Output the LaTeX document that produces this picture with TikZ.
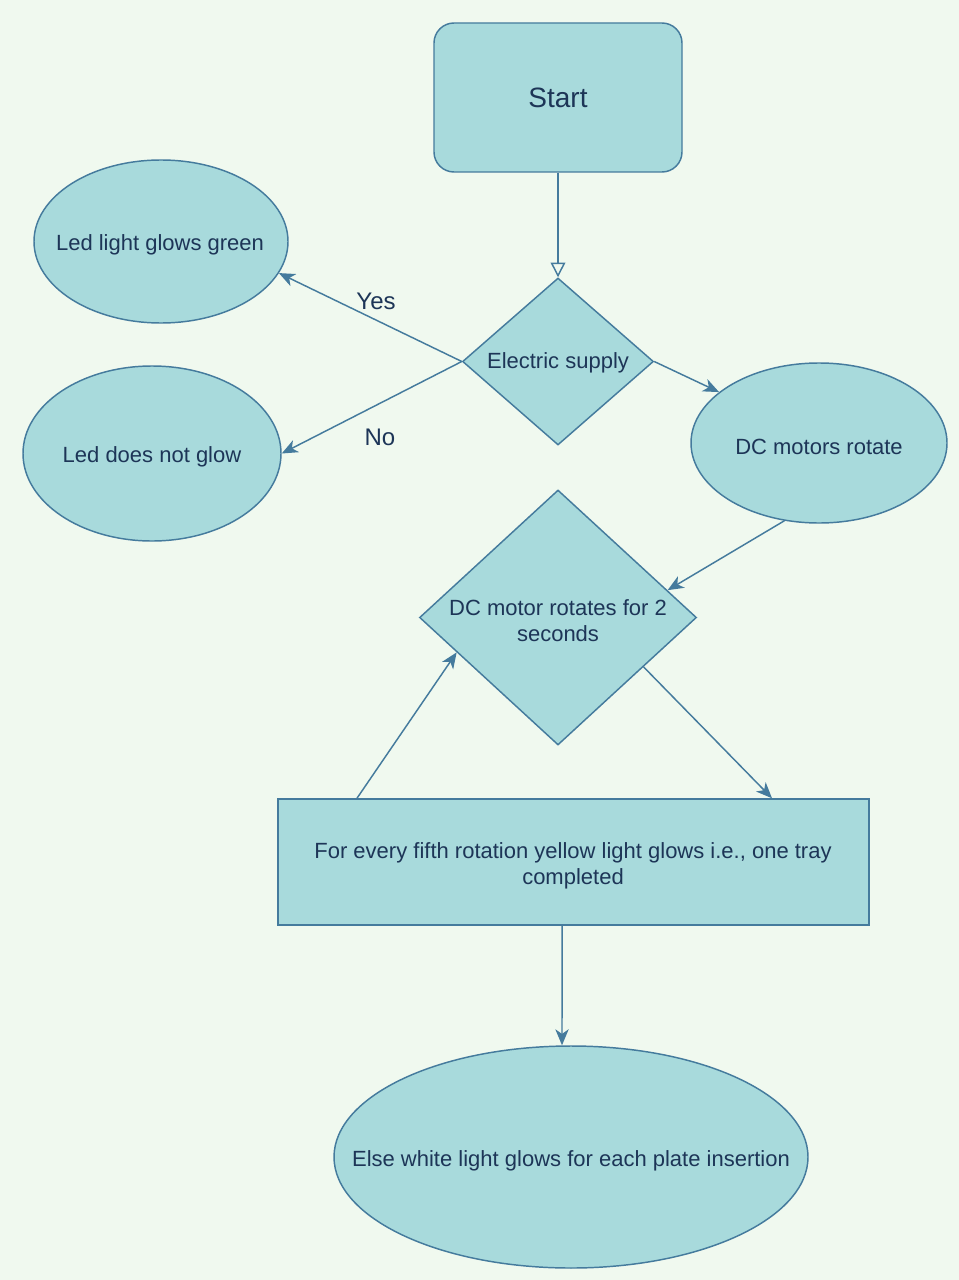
\documentclass[tikz,border=0pt]{standalone}
\usepackage{fontspec}
\setmainfont{Liberation Sans}
\usetikzlibrary{shapes.geometric,arrows.meta}
\definecolor{bgc}{HTML}{F0F9EF}
\definecolor{fillc}{HTML}{A8DADC}
\definecolor{linec}{HTML}{457B9D}
\definecolor{textc}{HTML}{1D3557}
\tikzset{
  base/.style={draw=linec, fill=fillc, line width=1.1pt, inner sep=0pt, text=textc,
    font=\fontsize{16.5}{19.5}\selectfont, align=center},
  ell/.style={base, ellipse},
  dia/.style={base, diamond},
  boxnode/.style={base, rectangle},
  txt/.style={text=textc, inner sep=0pt, font=\fontsize{16.5}{19.5}\selectfont, align=center},
  lbl/.style={text=textc, inner sep=0pt, font=\fontsize{18}{20}\selectfont},
  conn/.style={draw=linec, line width=1.1pt, -{Stealth[length=12pt,width=10pt,inset=3.5pt]}},
  openconn/.style={draw=linec, line width=1.1pt, -{Triangle[open,length=11pt,width=11pt]}}
}
\begin{document}
\begin{tikzpicture}[x=0.75pt,y=-0.75pt]
\fill[bgc] (0,0) rectangle (959,1280);
\useasboundingbox (0,0) rectangle (959,1280);

\node[boxnode, rounded corners=15pt, minimum width=186pt, minimum height=111.75pt,
  font=\fontsize{21}{24}\selectfont] (start) at (558,97.5) {Start};

\node[dia, minimum width=143.25pt, minimum height=125.25pt] (d1) at (558,361.5) {};
\node[txt] (d1t) at (558,363) {Electric supply};

\node[ell, minimum width=190.5pt, minimum height=122.25pt] (e1) at (161,241.5) {};
\node[txt] (e1t) at (160,245) {Led light glows green};
\node[ell, minimum width=193.5pt, minimum height=131.25pt] (e2) at (152,453.5) {};
\node[txt] (e2t) at (152,457) {Led does not glow};
\node[ell, minimum width=192pt, minimum height=120pt] (e3) at (819,443) {};
\node[txt] (e3t) at (819,447) {DC motors rotate};

\node[dia, minimum width=207.75pt, minimum height=191.25pt] (d2) at (558,617.5) {};
\node[txt] (d2t) at (558,621) {DC motor rotates for 2\\seconds};

\node[boxnode, minimum width=443.25pt, minimum height=94.5pt] (r) at (573.5,862) {};
\node[txt] (rt) at (573,866) {For every fifth rotation yellow light glows i.e., one tray\\completed};

\node[ell, minimum width=355.5pt, minimum height=166.5pt] (e4) at (571,1157) {};
\node[txt] (e4t) at (571,1161) {Else white light glows for each plate insertion};

\draw[openconn] (start.south) -- (d1.north);
\draw[conn] (d1.west) -- (e1.-15);
\draw[conn] (d1.west) -- (e2.east);
\draw[conn] (d1.east) -- (e3.153);
\draw[conn] (e3.-114) -- (d2.14);
\draw[conn] ([xshift=-162.4pt]r.north) -- (d2.199);
\draw[conn] (d2.-30) -- ([xshift=148.9pt]r.north);
\draw[conn] ([xshift=-8.6pt]r.south) -- ([xshift=-6.75pt]e4.north);

\node[lbl] (yes) at (376,301) {Yes};
\node[lbl] (no) at (380,437) {No};
\end{tikzpicture}
\end{document}
